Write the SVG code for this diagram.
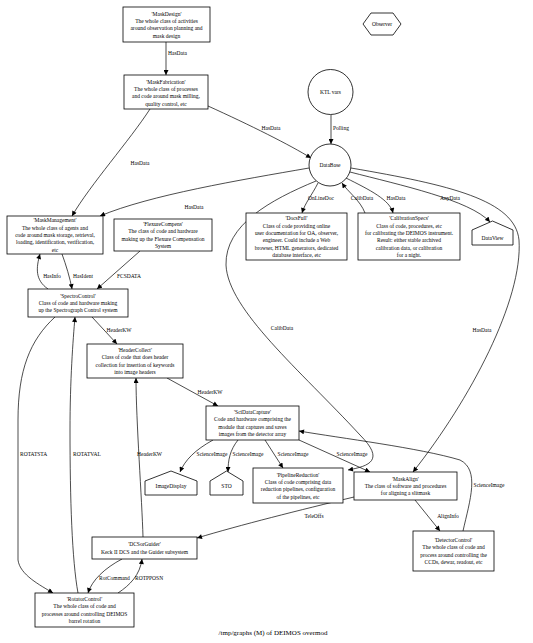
<svg xmlns="http://www.w3.org/2000/svg" width="533" height="643" viewBox="0 0 533 643">
<defs>
<marker id="ah" viewBox="0 0 10 10" refX="10" refY="5" markerWidth="6" markerHeight="5" markerUnits="userSpaceOnUse" orient="auto">
<path d="M0,0 L10,5 L0,10 z" fill="#000"/>
</marker>
</defs>
<style>
text{font-family:"Liberation Serif","Times New Roman",serif;font-size:5.5px;fill:#000}
.n text{text-anchor:middle}
.n rect,.n circle,.n polygon{fill:#fff;stroke:#000;stroke-width:0.8}
.e path{fill:none;stroke:#000;stroke-width:0.7;marker-end:url(#ah)}
.l{text-anchor:middle}
</style>
<rect width="533" height="643" fill="#fff"/>
<g class="e" id="connectors">
<path d="M166,42 L166,75"/>
<path d="M150,109 C130,140 90,185 72,216"/>
<path d="M208,106 C250,125 290,145 311,158"/>
<path d="M331,115 L331,144"/>
<path d="M309,168 C240,180 150,195 100,216"/>
<path d="M316,181 C270,200 225,225 226,265 C228,310 300,370 360,435 C385,460 370,466 348,470"/>
<path d="M318,183 C312,195 305,203 302,213"/>
<path d="M365,213 C360,200 348,192 342,183"/>
<path d="M346,178 C370,190 390,200 393,213"/>
<path d="M350,172 C400,185 470,200 490,222"/>
<path d="M351,168 C450,185 515,200 519,240 C523,300 470,400 413,472"/>
<path d="M140,251 L97,289"/>
<path d="M48,289 C35,280 36,268 40,254"/>
<path d="M62,254 C66,265 70,278 72,289"/>
<path d="M92,317 L117,344"/>
<path d="M167,378 L218,406"/>
<path d="M143,537 C142,500 136,420 136,378"/>
<path d="M55,317 C30,340 18,370 18,420 L18,560 C20,575 40,585 53,593"/>
<path d="M78,593 C72,560 70,500 70,430 C70,380 73,340 75,317"/>
<path d="M122,559 C105,568 92,580 88,593"/>
<path d="M118,593 C130,585 140,575 142,559"/>
<path d="M354,497 C300,510 240,525 197,538"/>
<path d="M415,500 L440,531"/>
<path d="M463,531 C470,500 480,470 460,460 C420,448 340,438 299,431"/>
<path d="M213,440 C195,450 185,460 180,472"/>
<path d="M238,440 C230,450 228,460 228,472"/>
<path d="M265,440 L283,468"/>
<path d="M299,440 L370,472"/>
</g>
<g id="edge-labels">
<text x="168" y="55">HasData</text>
<text class="l" x="140" y="165">HasData</text>
<text class="l" x="271" y="130">HasData</text>
<text x="333" y="130">Polling</text>
<text class="l" x="194" y="209">HasData</text>
<text class="l" x="282" y="330">CalibData</text>
<text class="l" x="321" y="200">OnLineDoc</text>
<text class="l" x="362" y="200">CalibData</text>
<text class="l" x="396" y="200">HasData</text>
<text class="l" x="450" y="200">AnyData</text>
<text class="l" x="482" y="332">HasData</text>
<text class="l" x="129" y="278">FCSDATA</text>
<text class="l" x="52" y="278">HasInfo</text>
<text class="l" x="83" y="278">HasIdent</text>
<text class="l" x="119" y="332">HeaderKW</text>
<text class="l" x="210" y="394">HeaderKW</text>
<text x="137" y="456">HeaderKW</text>
<text x="20" y="456">ROTATSTA</text>
<text x="73" y="456">ROTATVAL</text>
<text x="99" y="580">RotCommand</text>
<text x="135" y="580">ROTPPOSN</text>
<text class="l" x="314" y="518">TeleOffs</text>
<text class="l" x="448" y="518">AlignInfo</text>
<text class="l" x="489" y="487">ScienceImage</text>
<text class="l" x="212" y="456">ScienceImage</text>
<text class="l" x="248" y="456">ScienceImage</text>
<text class="l" x="293" y="456">ScienceImage</text>
<text class="l" x="352" y="456">ScienceImage</text>
</g>
<g class="n" id="MaskDesign">
<rect x="123" y="7" width="87" height="35"/>
<text x="166.5" y="15.5">'MaskDesign'</text>
<text x="166.5" y="22.8">The whole class of activities</text>
<text x="166.5" y="30.2">around observation planning and</text>
<text x="166.5" y="37.5">mask design</text>
</g>
<g class="n" id="MaskFabrication">
<rect x="124" y="75" width="84" height="34"/>
<text x="166" y="83.5">'MaskFabrication'</text>
<text x="166" y="90.8">The whole class of processes</text>
<text x="166" y="98.2">and code around mask milling,</text>
<text x="166" y="105.5">quality control, etc</text>
</g>
<g class="n" id="Observer">
<polygon points="363,24 371,13 393,13 401,24 393,35 371,35"/>
<text x="382" y="26">Observer</text>
</g>
<g class="n" id="KTLvars">
<circle cx="330.5" cy="92" r="22.5"/>
<text x="330.5" y="94">KTL vars</text>
</g>
<g class="n" id="DataBase">
<circle cx="330" cy="165" r="21"/>
<text x="330" y="167">DataBase</text>
</g>
<g class="n" id="MaskManagement">
<rect x="7" y="216" width="96" height="38"/>
<text x="55" y="222.4">'MaskManagement'</text>
<text x="55" y="229.7">The whole class of agents and</text>
<text x="55" y="237">code around mask storage, retrieval,</text>
<text x="55" y="244.3">loading, identification, verification,</text>
<text x="55" y="251.6">etc</text>
</g>
<g class="n" id="FlexureCompens">
<rect x="114" y="219" width="98" height="32"/>
<text x="163" y="226">'FlexureCompens'</text>
<text x="163" y="233.3">The class of code and hardware</text>
<text x="163" y="240.7">making up the Flexure Compensation</text>
<text x="163" y="248">System</text>
</g>
<g class="n" id="DocsFull">
<rect x="246" y="213" width="101" height="47"/>
<text x="296.5" y="220.2">'DocsFull'</text>
<text x="296.5" y="227.5">Class of code providing online</text>
<text x="296.5" y="234.8">user documentation for OA, observer,</text>
<text x="296.5" y="242.2">engineer. Could include a Web</text>
<text x="296.5" y="249.5">browser, HTML generators, dedicated</text>
<text x="296.5" y="256.8">database interface, etc</text>
</g>
<g class="n" id="CalibrationSpecs">
<rect x="358" y="213" width="102" height="47"/>
<text x="409" y="220.2">'CalibrationSpecs'</text>
<text x="409" y="227.5">Class of code, procedures, etc</text>
<text x="409" y="234.8">for calibrating the DEIMOS instrument.</text>
<text x="409" y="242.2">Result: either stable archived</text>
<text x="409" y="249.5">calibration data, or calibration</text>
<text x="409" y="256.8">for a night.</text>
</g>
<g class="n" id="DataView">
<polygon points="472,245 472,230 492.5,221 513,230 513,245"/>
<text x="492.5" y="240">DataView</text>
</g>
<g class="n" id="SpectroControl">
<rect x="28" y="289" width="100" height="28"/>
<text x="78" y="297.7">'SpectroControl'</text>
<text x="78" y="305">Class of code and hardware making</text>
<text x="78" y="312.3">up the Spectrograph Control system</text>
</g>
<g class="n" id="HeaderCollect">
<rect x="87" y="344" width="96" height="34"/>
<text x="135" y="352">'HeaderCollect'</text>
<text x="135" y="359.3">Class of code that does header</text>
<text x="135" y="366.7">collection for insertion of keywords</text>
<text x="135" y="374">into image headers</text>
</g>
<g class="n" id="SciDataCapture">
<rect x="206" y="406" width="93" height="34"/>
<text x="252.5" y="414">'SciDataCapture'</text>
<text x="252.5" y="421.3">Code and hardware comprising the</text>
<text x="252.5" y="428.7">module that captures and saves</text>
<text x="252.5" y="436">images from the detector array</text>
</g>
<g class="n" id="ImageDisplay">
<polygon points="145,495 145,481 171,471 197,481 197,495"/>
<text x="171" y="488">ImageDisplay</text>
</g>
<g class="n" id="STO">
<polygon points="210,495 210,481 226.5,471 243,481 243,495"/>
<text x="226.5" y="488">STO</text>
</g>
<g class="n" id="PipelineReduction">
<rect x="253" y="468" width="90" height="35"/>
<text x="298" y="476.5">'PipelineReduction'</text>
<text x="298" y="483.8">Class of code comprising data</text>
<text x="298" y="491.2">reduction pipelines, configuration</text>
<text x="298" y="498.5">of the pipelines, etc</text>
</g>
<g class="n" id="MaskAlign">
<rect x="354" y="472" width="103" height="28"/>
<text x="405.5" y="480.7">'MaskAlign'</text>
<text x="405.5" y="488">The class of software and procedures</text>
<text x="405.5" y="495.3">for aligning a slitmask</text>
</g>
<g class="n" id="DetectorControl">
<rect x="413" y="531" width="81" height="40"/>
<text x="453.5" y="542">'DetectorControl'</text>
<text x="453.5" y="549.3">The whole class of code and</text>
<text x="453.5" y="556.7">process around controlling the</text>
<text x="453.5" y="564">CCDs, dewar, readout, etc</text>
</g>
<g class="n" id="DCSorGuider">
<rect x="92" y="537" width="105" height="22"/>
<text x="144.5" y="546.3">'DCSorGuider'</text>
<text x="144.5" y="553.7">Keck II DCS and the Guider subsystem</text>
</g>
<g class="n" id="RotatorControl">
<rect x="35" y="593" width="99" height="34"/>
<text x="84.5" y="601">'RotatorControl'</text>
<text x="84.5" y="608.3">The whole class of code and</text>
<text x="84.5" y="615.7">processes around controlling DEIMOS</text>
<text x="84.5" y="623">barrel rotation</text>
</g>
<text x="273" y="635" text-anchor="middle" style="font-size:7px">/tmp/graphs (M) of DEIMOS overmod</text>
</svg>
